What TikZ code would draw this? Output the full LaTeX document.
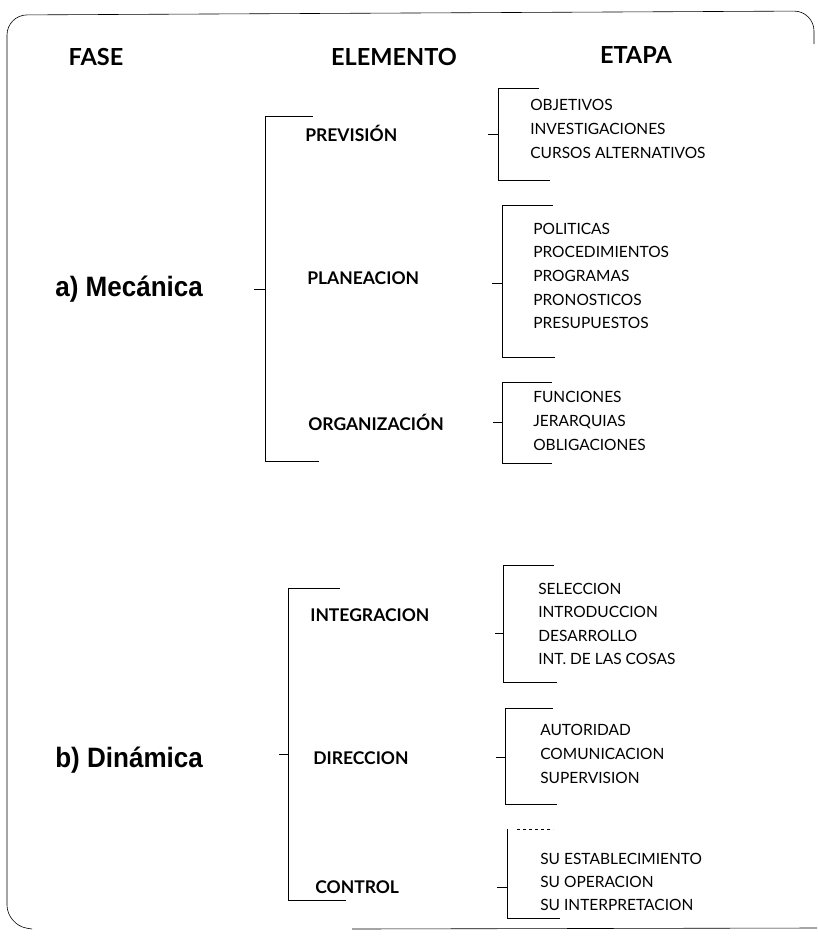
\documentclass[tikz,border=0pt]{standalone}
\usepackage{fontspec}
\setmainfont{Lato}
\newfontfamily\narrowsans[FakeStretch=0.93]{Liberation Sans}
\usepackage{tikz}

\begin{document}
\begin{tikzpicture}[x=1pt, y=-1pt, line width=0.6pt,
        head/.style={font=\bfseries\fontsize{23.5}{28}\selectfont},
        fase/.style={anchor=west, inner sep=0pt, font=\narrowsans\bfseries\fontsize{28}{32}\selectfont},
        elem/.style={anchor=west, inner sep=0pt, font=\bfseries\fontsize{17.5}{21}\selectfont},
        etapa/.style={anchor=west, inner sep=0pt, align=left, font=\fontsize{15.5}{23.6}\selectfont}]
            \useasboundingbox (0, 0) rectangle (817, 937);
            % marco
            \draw[rounded corners=20pt] (814, 44) -- (814, 11) -- (7, 15) -- (7, 925) -- (32, 929);
            \draw (352, 929) -- (817, 928);

            \node[head] at (96, 57) (fase) {FASE};
            \node[head] at (394, 57) (elemento) {ELEMENTO};
            \node[head] at (636, 55) (etapa) {ETAPA};

            \node[fase] at (55, 289) (mecanica) {a) Mecánica};
            \node[fase] at (55, 760) (dinamica) {b) Dinámica};

            \node[elem] at (305, 133) (prevision) {PREVISIÓN};
            \node[elem] at (307, 278) (planeacion) {PLANEACION};
            \node[elem] at (308, 422) (organizacion) {ORGANIZACIÓN};
            \node[elem] at (310, 615) (integracion) {INTEGRACION};
            \node[elem] at (313, 758) (direccion) {DIRECCION};
            \node[elem] at (315, 887) (control) {CONTROL};

            \node[etapa] at (530, 129) (prevL) {OBJETIVOS\\INVESTIGACIONES\\CURSOS ALTERNATIVOS};
            \node[etapa] at (533, 276) (planL) {POLITICAS\\PROCEDIMIENTOS\\PROGRAMAS\\PRONOSTICOS\\PRESUPUESTOS};
            \node[etapa] at (533, 421) (orgaL) {FUNCIONES\\JERARQUIAS\\OBLIGACIONES};
            \node[etapa] at (538, 624) (inteL) {SELECCION\\INTRODUCCION\\DESARROLLO\\INT. DE LAS COSAS};
            \node[etapa] at (540, 754) (direL) {AUTORIDAD\\COMUNICACION\\SUPERVISION};
            \node[etapa, font=\fontsize{15.5}{23}\selectfont] at (540, 882) (contL) {SU ESTABLECIMIENTO\\SU OPERACION\\SU INTERPRETACION};

            % llaves de fase
            \coordinate (mecT) at (265, 116);
            \coordinate (mecB) at (265, 461);
            \coordinate (mecM) at (265, 289);
            \draw ([xshift=48pt]mecT) -- (mecT) -- (mecB) -- ++(54, 0);
            \draw (mecM) -- ++(-11, 0);

            \coordinate (dinT) at (288, 588);
            \coordinate (dinB) at (288, 900);
            \coordinate (dinM) at (288, 754);
            \draw ([xshift=52pt]dinT) -- (dinT) -- (dinB) -- ++(58, 0);
            \draw (dinM) -- ++(-9, 0);

            % llaves de elemento
            \coordinate (prevT) at (498, 88);
            \coordinate (prevB) at (498, 180);
            \coordinate (prevM) at (498, 134);
            \draw ([xshift=41pt]prevT) -- (prevT) -- (prevB) -- ++(52, 0);
            \draw (prevM) -- ++(-10, 0);

            \coordinate (planT) at (502, 205);
            \coordinate (planB) at (502, 357);
            \coordinate (planM) at (502, 283);
            \draw ([xshift=51pt]planT) -- (planT) -- (planB) -- ++(53, 0);
            \draw (planM) -- ++(-10, 0);

            \coordinate (orgaT) at (502, 382);
            \coordinate (orgaB) at (502, 463);
            \coordinate (orgaM) at (502, 422);
            \draw ([xshift=50pt]orgaT) -- (orgaT) -- (orgaB) -- ++(50, 0);
            \draw (orgaM) -- ++(-9, 0);

            \coordinate (inteT) at (503, 565);
            \coordinate (inteB) at (503, 682);
            \coordinate (inteM) at (503, 633);
            \draw ([xshift=51pt]inteT) -- (inteT) -- (inteB) -- ++(54, 0);
            \draw (inteM) -- ++(-8, 0);

            \coordinate (direT) at (505, 708);
            \coordinate (direB) at (505, 804);
            \coordinate (direM) at (505, 757);
            \draw ([xshift=48pt]direT) -- (direT) -- (direB) -- ++(52, 0);
            \draw (direM) -- ++(-9, 0);

            \coordinate (contT) at (507, 829);
            \coordinate (contB) at (507, 918);
            \coordinate (contM) at (507, 887);
            \draw[dashed] ([xshift=10pt]contT) -- ++(36, 0);
            \draw (contT) -- (contB) -- ++(53, 0);
            \draw (contM) -- ++(-10, 0);
    \end{tikzpicture}
\end{document}
